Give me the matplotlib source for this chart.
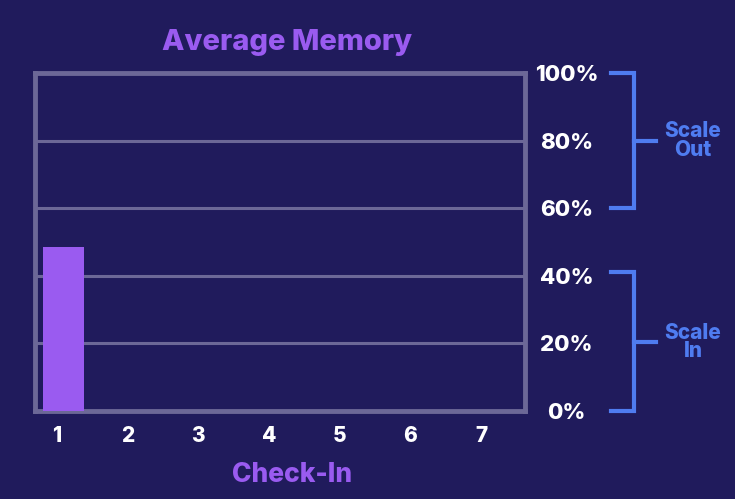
import numpy as np
import matplotlib
matplotlib.use('Agg')
from matplotlib import pyplot as plt
import matplotlib.transforms as mtransforms

plt.rcParams['font.family'] = ['Inter', 'DejaVu Sans']

# data
checkin = [1, 2, 3, 4, 5, 6, 7]
memory = [48.5]
yticks = [0, 20, 40, 60, 80, 100]
ylabels = ['0%', '20%', '40%', '60%', '80%', '100%']

bg = '#201b5c'
frame = '#6c6897'
purple = '#9a5bf0'
blue = '#4f7cf0'

fig = plt.figure(figsize=(7.35, 4.99), dpi=100, facecolor=bg)
ax = fig.add_axes([35/735, 1-411/499, 490/735, 338/499], facecolor=bg)

ax.bar(np.array(checkin[:len(memory)]) - 0.2, memory, width=0.58, align='edge',
       color=purple, zorder=3)

ax.set_xlim(0.69, 7.62)
ax.set_ylim(0, 100)
ax.set_xticks(checkin)
ax.set_xticklabels([str(c) for c in checkin], color='white', fontsize=15, fontweight='heavy')
ax.set_yticks(yticks)
ax.set_yticklabels(ylabels, color='white', fontsize=16, fontweight='heavy')
ax.yaxis.tick_right()
for lab in ax.get_yticklabels():
    lab.set_horizontalalignment('center')
ax.tick_params(axis='y', length=0, pad=30)
ax.tick_params(axis='x', length=0, pad=11)
ax.grid(axis='y', color=frame, linewidth=2.2, zorder=1)
for s in ax.spines.values():
    s.set_color(frame)
    s.set_linewidth(3.5)

# brackets on the right
tr = mtransforms.blended_transform_factory(ax.transAxes, ax.transData)
x0, x1, x2 = 1.176, 1.222, 1.268
for lo, hi in [(60, 100), (0, 41)]:
    mid = (lo + hi) / 2
    ax.plot([x0, x1, x1, x0], [hi, hi, lo, lo], color=blue, lw=3, transform=tr,
            clip_on=False, solid_joinstyle='miter')
    ax.plot([x1, x2], [mid, mid], color=blue, lw=3, transform=tr, clip_on=False)
ax.text(1.343, 80, 'Scale\nOut', color=blue, fontsize=15, fontweight='heavy',
        ha='center', va='center', linespacing=0.9, transform=tr)
ax.text(1.343, 20.5, 'Scale\nIn', color=blue, fontsize=15, fontweight='heavy',
        ha='center', va='center', linespacing=0.9, transform=tr)

fig.text(287/735, 1-42/499, 'Average Memory', color=purple, fontsize=21,
         fontweight='heavy', ha='center', va='center')
fig.text(292/735, 1-475/499, 'Check-In', color=purple, fontsize=19,
         fontweight='heavy', ha='center', va='center')

fig.savefig('out.png', dpi=100, facecolor=bg)
